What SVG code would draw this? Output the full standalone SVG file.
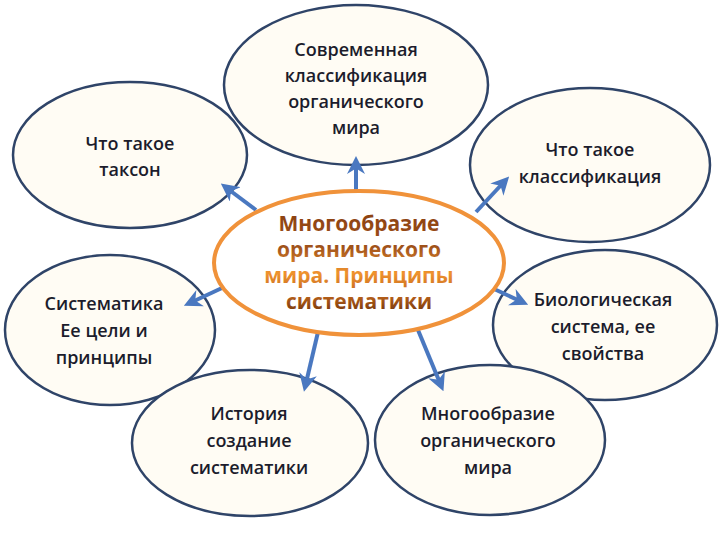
<svg xmlns="http://www.w3.org/2000/svg" width="720" height="540" viewBox="0 0 720 540">
<defs>
<linearGradient id="tg" gradientUnits="userSpaceOnUse" x1="0" y1="210" x2="0" y2="315">
<stop offset="0" stop-color="#8a4010"/><stop offset="0.35" stop-color="#a0521a"/><stop offset="0.6" stop-color="#f0932e"/><stop offset="0.8" stop-color="#c0661c"/><stop offset="1" stop-color="#6a300a"/>
</linearGradient>
<marker id="ah" viewBox="0 0 10 10" refX="5" refY="5" markerWidth="4.5" markerHeight="4.5" orient="auto"><path d="M0,0 L10,5 L0,10 L3,5 z" fill="#4a78c0"/></marker>
</defs>
<style>
.n{fill:#fffcf4;stroke:#2f4468;stroke-width:2.5}
.t{font-family:"Open Sans","Liberation Sans",sans-serif;font-size:18px;font-weight:600;fill:#1c1c2c;text-anchor:middle}
.c{stroke:#4a78c0;stroke-width:4;fill:none;marker-end:url(#ah)}
.m{font-family:"Open Sans","Liberation Sans",sans-serif;font-size:21px;font-weight:bold;text-anchor:middle}
</style>
<rect width="720" height="540" fill="#fff"/>
<g id="n1"><ellipse class="n" cx="130" cy="155" rx="117" ry="73"/><text class="t" x="130" y="150">Что такое</text><text class="t" x="130" y="176">таксон</text></g>
<g id="n2"><ellipse class="n" cx="356" cy="85" rx="132" ry="80"/><text class="t" x="356" y="56">Современная</text><text class="t" x="356" y="82">классификация</text><text class="t" x="356" y="108">органического</text><text class="t" x="356" y="134">мира</text></g>
<g id="n3"><ellipse class="n" cx="590" cy="165" rx="120" ry="77"/><text class="t" x="590" y="156">Что такое</text><text class="t" x="590" y="183">классификация</text></g>
<g id="n4"><ellipse class="n" cx="110" cy="330" rx="105" ry="75"/><text class="t" x="104" y="310">Систематика</text><text class="t" x="104" y="337">Ее цели и</text><text class="t" x="104" y="364">принципы</text></g>
<g id="n5"><ellipse class="n" cx="605" cy="325" rx="112" ry="75"/><text class="t" x="603" y="306">Биологическая</text><text class="t" x="603" y="333">система, ее</text><text class="t" x="603" y="360">свойства</text></g>
<g id="n6"><ellipse class="n" cx="250" cy="443" rx="118" ry="73"/><text class="t" x="249" y="420">История</text><text class="t" x="249" y="447">создание</text><text class="t" x="249" y="474">систематики</text></g>
<g id="n7"><ellipse class="n" cx="490" cy="440" rx="115" ry="75"/><text class="t" x="488" y="420">Многообразие</text><text class="t" x="488" y="447">органического</text><text class="t" x="488" y="474">мира</text></g>
<g id="conn">
<line class="c" x1="356" y1="190" x2="356" y2="165"/>
<line class="c" x1="256" y1="210" x2="228" y2="189"/>
<line class="c" x1="476" y1="212" x2="503" y2="183"/>
<line class="c" x1="222" y1="288" x2="192" y2="302"/>
<line class="c" x1="492" y1="288" x2="520" y2="301"/>
<line class="c" x1="318" y1="332" x2="306" y2="383"/>
<line class="c" x1="418" y1="330" x2="440" y2="383"/>
</g>
<g id="center"><ellipse cx="359" cy="263" rx="145" ry="72" fill="#fff" stroke="#f0923a" stroke-width="4"/>
<text class="m" x="359" y="231" fill="url(#tg)">Многообразие</text><text class="m" x="359" y="257" fill="url(#tg)">органического</text><text class="m" x="359" y="283" fill="url(#tg)">мира. Принципы</text><text class="m" x="359" y="309" fill="url(#tg)">систематики</text></g>
</svg>
